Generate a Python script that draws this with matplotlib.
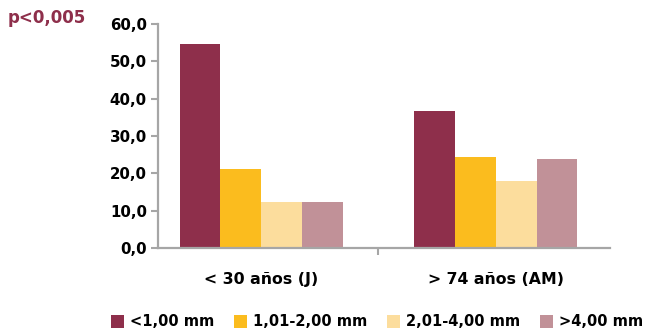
import matplotlib
matplotlib.use("Agg")
import matplotlib.pyplot as plt
import numpy as np

categories = ["< 30 años (J)", "> 74 años (AM)"]
series_names = ["<1,00 mm", "1,01-2,00 mm", "2,01-4,00 mm", ">4,00 mm"]
values = {
    "<1,00 mm": [54.6, 36.7],
    "1,01-2,00 mm": [21.2, 24.4],
    "2,01-4,00 mm": [12.3, 17.9],
    ">4,00 mm": [12.3, 23.8],
}
yticks = [0, 10, 20, 30, 40, 50, 60]
ytick_labels = ["0,0", "10,0", "20,0", "30,0", "40,0", "50,0", "60,0"]
colors = ["#8E2F4B", "#FBBC1E", "#FCDD9D", "#C19198"]

plt.rcParams['font.family'] = ['DejaVu Sans']
fig = plt.figure(figsize=(6.45, 3.35), dpi=100)
W, H = 645, 335
ax = fig.add_axes([158 / W, 1 - 248 / H, (610 - 158) / W, (248 - 24) / H])

x = np.arange(len(categories))
bw = 0.175
offsets = (np.arange(4) - 1.5) * bw
handles = []
for i, name in enumerate(series_names):
    b = ax.bar(x + offsets[i], values[name], width=bw, color=colors[i], label=name, zorder=2)
    handles.append(b)

ax.set_ylim(0, 60)
ax.set_xlim(-0.442, 1.489)
ax.set_yticks(yticks)
ax.set_yticklabels(ytick_labels, fontsize=10.8, fontweight='bold')
ax.set_xticks(x)
ax.set_xticklabels(categories, fontsize=11.3, fontweight='bold')
ax.tick_params(axis='x', which='major', length=0, pad=17)
ax.set_xticks([0.5], minor=True)
ax.tick_params(axis='x', which='minor', length=5, width=1.5, color='#A6A6A6', direction='out')
ax.tick_params(axis='y', length=5, width=1.5, color='#A6A6A6', direction='out', pad=3)

for s in ['top', 'right']:
    ax.spines[s].set_visible(False)
for s in ['left', 'bottom']:
    ax.spines[s].set_color('#A6A6A6')
    ax.spines[s].set_linewidth(1.6)

fig.text(8 / W, 1 - 18 / H, "p<0,005", color="#8E2F4B", fontsize=12, fontweight='bold', va='center', ha='left')

leg = fig.legend(handles=handles, labels=series_names, loc='center', bbox_to_anchor=(377 / W, 1 - 322 / H),
                 ncol=4, frameon=False, handlelength=0.9, handleheight=0.9, handletextpad=0.4,
                 columnspacing=1.35, prop={'size': 10.5, 'weight': 'bold'})

fig.savefig("out.png", dpi=100)
